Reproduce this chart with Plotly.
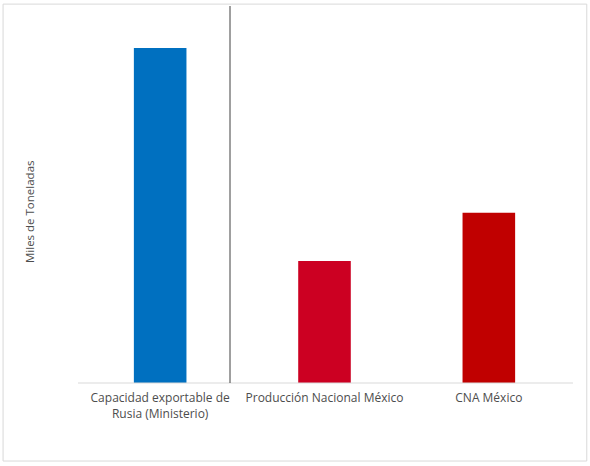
import plotly.graph_objects as go

# Values (thousand tonnes, approximate)
CATEGORIES = ["Capacidad exportable de<br>Rusia (Ministerio)", "Producción Nacional México", "CNA México"]
VALUES = [5000, 1820, 2540]
BAR_COLORS = ["#0070C0", "#CC0022", "#C00000"]
Y_TITLE = "Miles de Toneladas"

fig = go.Figure(
    go.Bar(
        x=CATEGORIES,
        y=VALUES,
        marker=dict(color=BAR_COLORS, line=dict(width=0)),
        width=0.32,
    )
)

fig.update_layout(
    width=590,
    height=466,
    margin=dict(t=6, b=83, l=78, r=19),
    plot_bgcolor="#ffffff",
    paper_bgcolor="#ffffff",
    font=dict(family="Open Sans", color="#4d4d4d", size=12),
    showlegend=False,
    shapes=[
        # outer frame
        dict(type="rect", xref="paper", yref="paper", x0=-0.152, x1=1.032, y0=-0.207, y1=1.005,
             line=dict(color="#d9d9d9", width=1), layer="below"),
        # baseline
        dict(type="line", xref="paper", yref="paper", x0=0, x1=1.004, y0=0, y1=0,
             line=dict(color="#d9d9d9", width=1)),
        # divider between Russia and Mexico
        dict(type="line", xref="x", yref="paper", x0=0.425, x1=0.425, y0=0, y1=1,
             line=dict(color="#404040", width=1)),
    ],
    annotations=[
        dict(text=Y_TITLE, textangle=-90, xref="paper", yref="paper", x=-0.097, y=0.454,
             xanchor="center", yanchor="middle", showarrow=False,
             font=dict(size=11.5, color="#4d4d4d")),
    ],
)

fig.update_xaxes(showgrid=False, showline=False, ticks="", ticklabelstandoff=6,
                 tickfont=dict(size=12, color="#4d4d4d"))
fig.update_yaxes(range=[0, 5627], showgrid=False, showticklabels=False, zeroline=False)

fig.write_html("out.html", config={"displayModeBar": False},
               post_script="document.body.style.margin='0';")
